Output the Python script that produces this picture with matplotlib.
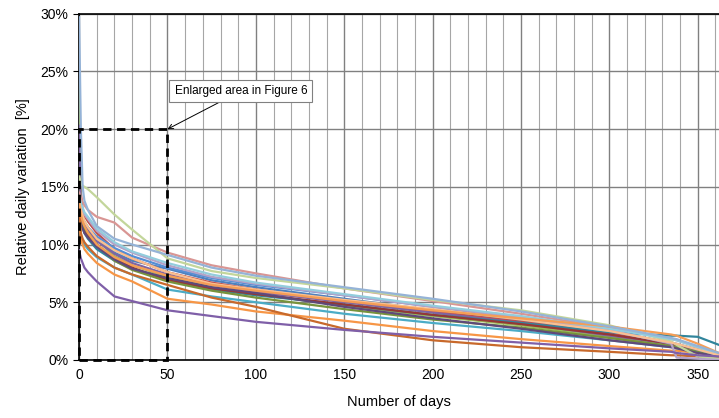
import matplotlib
matplotlib.use('Agg')
import matplotlib.pyplot as plt
from matplotlib.patches import Rectangle
from matplotlib.ticker import MultipleLocator, FuncFormatter

plt.rcParams['font.family'] = ['Liberation Sans', 'DejaVu Sans']

days = [0, 1, 2, 3, 5, 10, 20, 30, 50, 75, 100, 150, 200, 250, 300, 335, 338, 350, 362]

# relative daily variation [%], one list per station (sorted duration curves)
purple_low = [9.5, 8.8, 8.4, 8.0, 7.6, 6.8, 5.5, 5.1, 4.3, 3.8, 3.3, 2.6, 2.0, 1.5, 1.0, 0.7, 0.6, 0.4, 0.3]
orange = [12.0, 10.5, 10.0, 9.6, 9.2, 8.4, 7.4, 6.8, 5.3, 4.8, 4.2, 3.4, 2.5, 1.8, 1.2, 0.8, 0.8, 0.6, 0.4]
brown = [13.5, 11.0, 10.5, 10.2, 9.8, 9.0, 8.0, 7.4, 6.5, 5.4, 4.6, 2.7, 1.7, 1.1, 0.7, 0.4, 0.4, 0.3, 0.2]
teal = [12.5, 10.8, 10.4, 10.0, 9.6, 8.9, 8.0, 7.4, 6.1, 5.5, 5.0, 4.0, 3.2, 2.5, 1.7, 1.1, 1.0, 0.7, 0.4]
dark_teal = [13.0, 12.0, 11.5, 11.0, 10.5, 9.6, 8.6, 7.9, 7.0, 6.1, 5.6, 4.8, 3.9, 3.2, 2.4, 2.1, 2.1, 2.0, 1.3]
blue = [13.2, 12.5, 12.2, 11.8, 11.4, 10.5, 9.3, 8.6, 7.9, 6.9, 6.3, 5.3, 4.3, 3.4, 2.3, 1.3, 1.2, 0.8, 0.4]
red = [24.0, 14.5, 13.0, 12.5, 12.0, 11.0, 9.6, 8.8, 7.6, 6.7, 6.1, 5.1, 4.2, 3.3, 2.3, 1.4, 1.3, 0.9, 0.5]
green = [25.1, 13.5, 12.4, 12.0, 11.5, 10.4, 9.0, 8.2, 7.2, 6.3, 5.7, 4.7, 3.8, 3.0, 2.0, 1.2, 1.1, 0.6, 0.3]
purple = [20.3, 13.0, 12.3, 11.8, 11.3, 10.3, 9.2, 8.4, 7.4, 6.5, 5.9, 5.0, 4.1, 3.2, 2.1, 1.4, 1.3, 0.8, 0.4]
light_blue = [29.7, 20.0, 15.0, 13.8, 13.0, 11.6, 10.5, 10.0, 9.1, 8.0, 7.3, 6.3, 5.3, 4.2, 2.9, 1.9, 1.8, 1.2, 0.6]
rosy = [14.5, 14.0, 13.7, 13.4, 13.0, 12.4, 11.9, 10.6, 9.3, 8.2, 7.5, 6.2, 5.1, 4.0, 2.8, 1.8, 1.7, 1.1, 0.5]
light_green = [16.0, 15.3, 15.1, 15.0, 14.8, 14.1, 12.6, 11.3, 8.8, 7.7, 7.1, 6.2, 5.2, 4.3, 3.0, 1.6, 1.3, 0.3, 0.1]
lavender = [14.0, 13.5, 13.0, 12.6, 12.2, 11.2, 10.0, 9.3, 8.2, 7.2, 6.6, 5.6, 4.6, 3.7, 2.6, 1.4, 0.2, 0.1, 0.0]
light_teal = [14.2, 13.6, 13.2, 12.8, 12.4, 11.4, 10.2, 9.4, 8.4, 7.4, 6.7, 5.7, 4.7, 3.8, 2.7, 1.8, 1.7, 1.1, 0.5]
light_orange = [13.8, 13.0, 12.5, 12.0, 11.5, 10.5, 9.5, 8.8, 7.6, 6.6, 6.1, 5.2, 4.4, 3.5, 2.5, 1.5, 1.4, 0.9, 0.4]
dark_red = [12.8, 12.0, 11.6, 11.2, 10.8, 10.0, 8.8, 8.0, 6.9, 6.2, 5.7, 4.8, 3.9, 3.1, 2.2, 1.4, 1.3, 0.9, 0.5]
dark_green = [13.0, 12.2, 11.8, 11.4, 11.0, 10.0, 8.6, 7.8, 6.8, 6.0, 5.4, 4.4, 3.5, 2.8, 1.9, 1.2, 1.1, 0.7, 0.3]
dark_purple = [12.6, 11.8, 11.4, 11.0, 10.6, 9.8, 8.7, 7.9, 7.1, 6.3, 5.8, 4.6, 3.6, 2.7, 1.7, 1.1, 1.0, 0.6, 0.3]
orange2 = [13.6, 12.6, 12.0, 11.6, 11.0, 10.0, 8.9, 8.2, 7.3, 6.5, 6.0, 5.1, 4.3, 3.6, 2.9, 2.2, 2.1, 1.4, 0.6]
mid_blue = [13.4, 12.8, 12.3, 11.9, 11.5, 10.7, 9.7, 9.0, 8.0, 7.1, 6.5, 5.6, 4.6, 3.6, 2.5, 1.5, 1.4, 0.9, 0.4]

series = [
    (blue, '#4F81BD'), (red, '#C0504D'), (green, '#9BBB59'), (purple, '#8064A2'),
    (teal, '#4BACC6'), (orange, '#F79646'), (dark_teal, '#31859C'), (dark_red, '#953735'),
    (dark_green, '#77933C'), (dark_purple, '#5F497A'), (brown, '#C8692B'), (mid_blue, '#558ED5'),
    (rosy, '#D99694'), (light_green, '#C3D69B'), (lavender, '#B3A2C7'), (light_teal, '#93CDDD'),
    (light_orange, '#FAC090'), (orange2, '#F59D56'), (light_blue, '#95B3D7'), (purple_low, '#7F5FA8'),
]

fig = plt.figure(figsize=(7.19, 4.18), dpi=100)
ax = fig.add_axes([0.110, 0.139, 0.890, 0.828])

for vals, col in series:
    ax.plot(days, [v / 100 for v in vals], color=col, lw=1.6, zorder=3)

ax.set_xlim(0, 362)
ax.set_ylim(0, 0.30)
ax.xaxis.set_major_locator(MultipleLocator(50))
ax.xaxis.set_minor_locator(MultipleLocator(10))
ax.yaxis.set_major_locator(MultipleLocator(0.05))
ax.yaxis.set_major_formatter(FuncFormatter(lambda v, p: '%d%%' % round(v * 100)))
ax.grid(which='major', color='#808080', lw=1.0, zorder=0)
ax.grid(which='minor', axis='x', color='#A6A6A6', lw=0.8, zorder=0)
ax.tick_params(axis='x', which='both', length=0, labelsize=10, pad=6)
ax.tick_params(axis='y', length=4, labelsize=10, direction='out')
ax.spines['right'].set_visible(False)
for s in ['left', 'bottom', 'top']:
    ax.spines[s].set_color('black')
    ax.spines[s].set_linewidth(1.2)

ax.add_patch(Rectangle((0, 0), 50, 0.20, fill=False, ls=(0, (3, 2)), lw=2.0,
                       ec='black', zorder=5, clip_on=False))
ax.annotate('Enlarged area in Figure 6', xy=(50, 0.20), xytext=(54, 0.233),
            fontsize=8.5, va='center', ha='left',
            bbox=dict(boxstyle='square,pad=0.45', fc='white', ec='#808080', lw=0.8),
            arrowprops=dict(arrowstyle='->', color='black', lw=0.7, shrinkA=0, shrinkB=0),
            zorder=6)

ax.set_xlabel('Number of days', fontsize=10.5, labelpad=9)
ax.set_ylabel('Relative daily variation  [%]', fontsize=10.5, labelpad=8)

plt.savefig('out.png', dpi=100)
